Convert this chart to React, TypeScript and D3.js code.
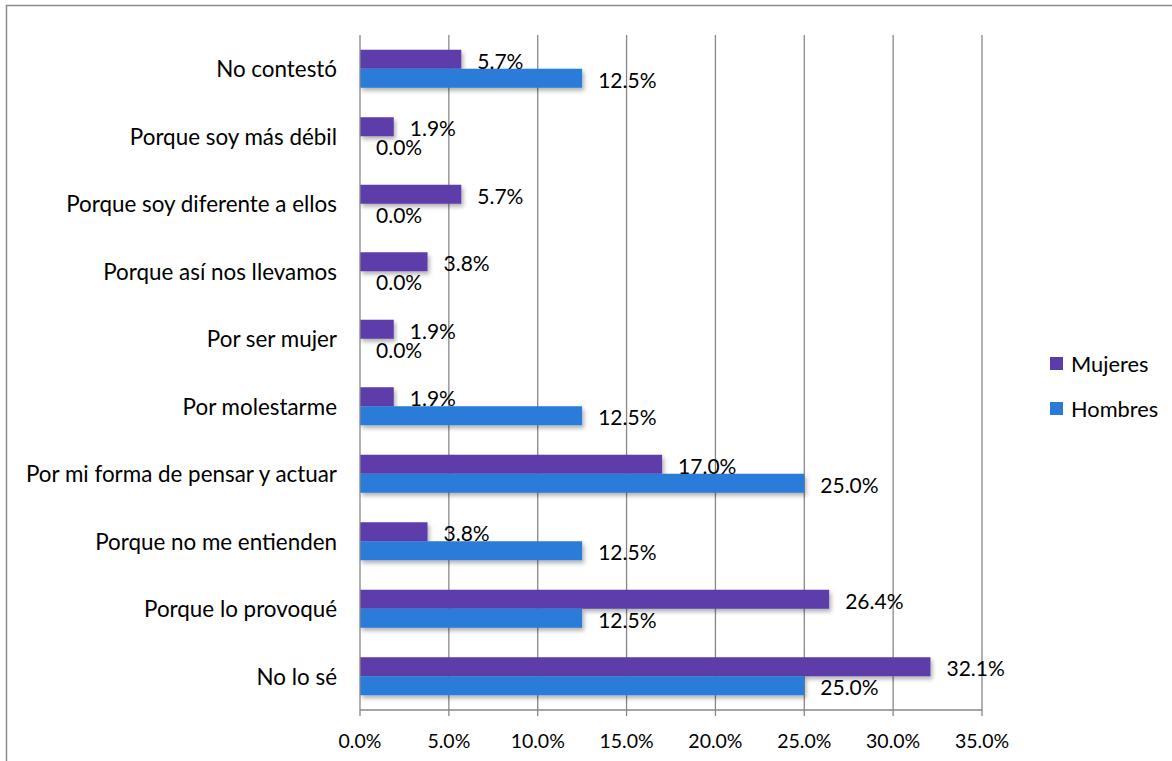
import React from "react";
import * as d3 from "d3";

const categories = [
  "No contestó",
  "Porque soy más débil",
  "Porque soy diferente a ellos",
  "Porque así nos llevamos",
  "Por ser mujer",
  "Por molestarme",
  "Por mi forma de pensar y actuar",
  "Porque no me entienden",
  "Porque lo provoqué",
  "No lo sé",
];
const mujeres = [5.7, 1.9, 5.7, 3.8, 1.9, 1.9, 17.0, 3.8, 26.4, 32.1];
const hombres = [12.5, 0.0, 0.0, 0.0, 0.0, 12.5, 25.0, 12.5, 12.5, 25.0];
const xTicks = [0, 5, 10, 15, 20, 25, 30, 35];
const seriesNames = ["Mujeres", "Hombres"];
const seriesColors = ["#5b3da9", "#2a7bd8"];

const W = 1172;
const H = 761;
const FONT = "Lato, 'Open Sans', sans-serif";

export default function App() {
  const x = d3.scaleLinear().domain([0, 35]).range([360, 982]);
  const y = d3.scaleBand().domain(categories).range([35, 710]);
  const barH = 19;
  const series = [mujeres, hombres];
  const grid = "#878787";

  return (
    <svg
      width={W}
      height={H}
      style={{ position: "absolute", left: 0, top: 0, background: "#fff" }}
      fontFamily={FONT}
    >
      <defs>
        <filter id="sh" x="-5%" y="-30%" width="115%" height="180%">
          <feDropShadow dx="2" dy="3" stdDeviation="2" floodColor="#000" floodOpacity="0.3" />
        </filter>
      </defs>
      <rect x={6.5} y={5.5} width={W} height={H} fill="#fff" stroke="#8c8c8c" strokeWidth={1.5} />
      {xTicks.slice(1).map((t) => (
        <line key={"g" + t} x1={x(t)} x2={x(t)} y1={35} y2={716} stroke={grid} strokeWidth={1.3} />
      ))}
      {categories.map((c, i) => {
        const cy = (y(c) as number) + y.bandwidth() / 2;
        return (
          <g key={c}>
            {series.map((s, k) => (
              <rect
                key={k}
                x={x(0)}
                y={cy - barH + k * barH}
                width={x(s[i]) - x(0)}
                height={barH}
                fill={seriesColors[k]}
                filter="url(#sh)"
              />
            ))}
          </g>
        );
      })}
      <line x1={360} x2={360} y1={35} y2={716} stroke={grid} strokeWidth={1.3} />
      <line x1={360} x2={982} y1={710} y2={710} stroke={grid} strokeWidth={1.3} />
      {xTicks.map((t) => (
        <text key={"t" + t} x={x(t)} y={740} textAnchor="middle" dominantBaseline="central" fontSize={19.5} fill="#000">
          {t.toFixed(1) + "%"}
        </text>
      ))}
      {categories.map((c) => (
        <text
          key={"c" + c}
          x={337}
          y={(y(c) as number) + y.bandwidth() / 2}
          textAnchor="end"
          dominantBaseline="central"
          fontSize={22.4}
          fill="#000"
        >
          {c}
        </text>
      ))}
      {categories.map((c, i) => {
        const cy = (y(c) as number) + y.bandwidth() / 2;
        return series.map((s, k) => (
          <text
            key={"l" + c + k}
            x={x(s[i]) + 16}
            y={cy - barH / 2 + k * barH + 1}
            dominantBaseline="central"
            fontSize={21}
            fill="#000"
          >
            {s[i].toFixed(1) + "%"}
          </text>
        ));
      })}
      {seriesNames.map((n, k) => (
        <g key={n} transform={`translate(1050, ${357 + k * 45})`}>
          <rect width={13} height={13} fill={seriesColors[k]} />
          <text x={21} y={6.5} dominantBaseline="central" fontSize={21.8} fill="#000">
            {n}
          </text>
        </g>
      ))}
    </svg>
  );
}
